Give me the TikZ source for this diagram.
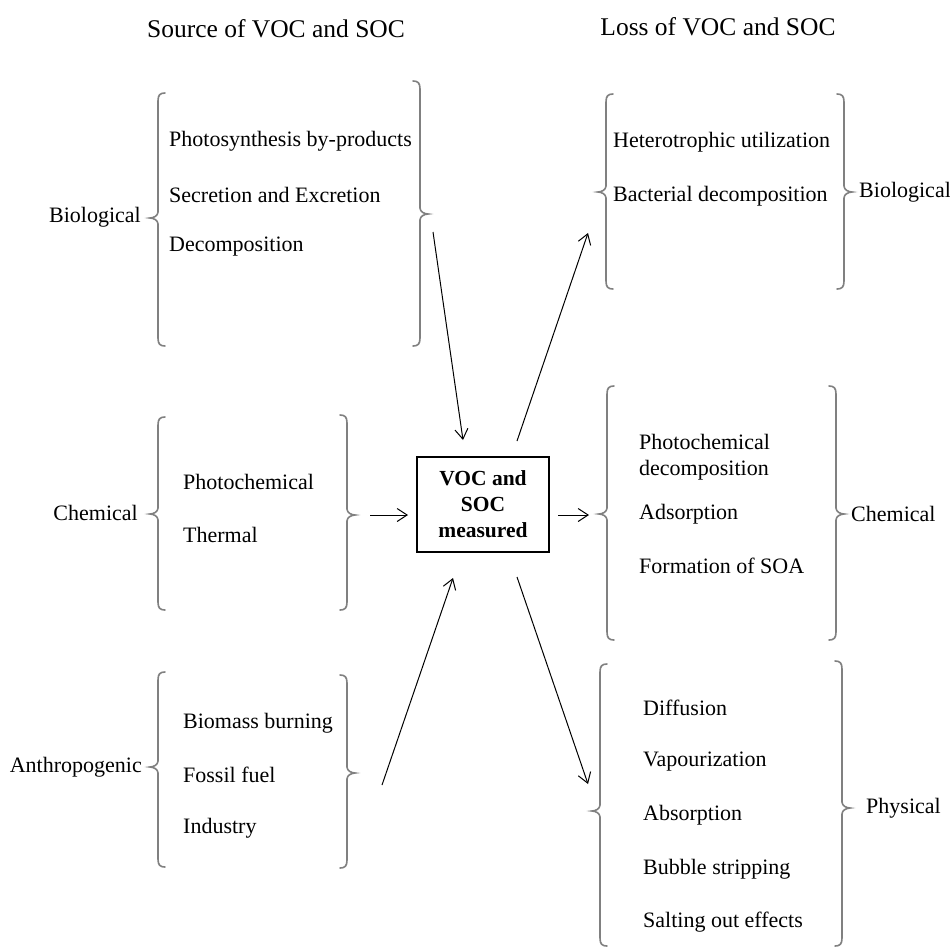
\documentclass[tikz,border=0pt]{standalone}
\usepackage{fontspec}
\setmainfont{Liberation Serif}
\usetikzlibrary{arrows.meta}
\newcommand{\LBr}[4]{% x, top, tip, bottom
  \draw[brc] (#1+7,#2) .. controls (#1+2,#2) and (#1,#2+2) .. (#1,#2+8)
    -- (#1,#3-6) .. controls (#1,#3-2) and (#1-5,#3) .. (#1-8,#3)
    .. controls (#1-5,#3) and (#1,#3+2) .. (#1,#3+6)
    -- (#1,#4-8) .. controls (#1,#4-2) and (#1+2,#4) .. (#1+7,#4);}
\newcommand{\RBr}[4]{% x, top, tip, bottom
  \draw[brc] (#1-7,#2) .. controls (#1-2,#2) and (#1,#2+2) .. (#1,#2+8)
    -- (#1,#3-6) .. controls (#1,#3-2) and (#1+5,#3) .. (#1+8,#3)
    .. controls (#1+5,#3) and (#1,#3+2) .. (#1,#3+6)
    -- (#1,#4-8) .. controls (#1,#4-2) and (#1-2,#4) .. (#1-7,#4);}
\begin{document}
\begin{tikzpicture}[x=1pt,y=-1pt,
  txt/.style={inner sep=0pt,font=\fontsize{22}{25.5}\selectfont},
  item/.style={txt,anchor=west},
  lbll/.style={txt,anchor=east},
  lblr/.style={txt,anchor=west},
  ttl/.style={inner sep=0pt,font=\fontsize{25.5}{29}\selectfont},
  brc/.style={draw=black!50,line width=1.6pt,line cap=round},
  arr/.style={draw=black,line width=1pt,-{Straight Barb[length=10pt,width=13pt]}},
  mbox/.style={draw=black,line width=1.2pt,minimum width=132pt,minimum height=95pt,
    align=center,inner sep=2pt,font=\fontsize{21.5}{26}\selectfont\bfseries}]
\useasboundingbox (0,0) rectangle (950,948);
% titles
\node[ttl] (tsrc) at (276,29) {Source of VOC and SOC};
\node[ttl] (tloss) at (718,27) {Loss of VOC and SOC};
% source: biological
\node[lbll] (sbio) at (141,217) {Biological};
\LBr{158}{93}{218}{346}
\node[item] (sb1) at (169,141) {Photosynthesis by-products};
\node[item] (sb2) at (169,195) {Secretion and Excretion};
\node[item] (sb3) at (169,247) {Decomposition};
\RBr{420}{81}{214}{346}
% source: chemical
\node[lbll] (schem) at (138,513) {Chemical};
\LBr{158}{417}{514}{610}
\node[item] (sc1) at (183,482) {Photochemical};
\node[item] (sc2) at (183,535) {Thermal};
\RBr{347}{415}{515}{610}
% source: anthropogenic
\node[lbll] (santh) at (142,767) {Anthropogenic};
\LBr{158}{672}{767}{867}
\node[item] (sa1) at (183,723) {Biomass burning};
\node[item] (sa2) at (183,775) {Fossil fuel};
\node[item] (sa3) at (183,828) {Industry};
\RBr{347}{675}{773}{868}
% centre
\node[mbox] (m) at (483,504.5) {VOC and\\SOC\\measured};
% loss: biological
\LBr{606}{94}{192}{289}
\node[item] (lb1) at (613,142) {Heterotrophic utilization};
\node[item] (lb2) at (613,196) {Bacterial decomposition};
\RBr{844}{94}{192}{289}
\node[lblr] (lbio) at (859,192) {Biological};
% loss: chemical
\LBr{607}{386}{514}{640}
\node[item,align=left] (lc1) at (639,457) {Photochemical\\decomposition};
\node[item] (lc2) at (639,514) {Adsorption};
\node[item] (lc3) at (639,566) {Formation of SOA};
\RBr{836}{386}{514}{640}
\node[lblr] (lchem) at (851,514) {Chemical};
% loss: physical
\LBr{600}{664}{811}{946}
\node[item] (lp1) at (643,708) {Diffusion};
\node[item] (lp2) at (643,762) {Vapourization};
\node[item] (lp3) at (643,815) {Absorption};
\node[item] (lp4) at (643,869) {Bubble stripping};
\node[item] (lp5) at (643,922) {Salting out effects};
\RBr{842}{661}{808}{946}
\node[lblr] (lphys) at (866,808) {Physical};
% connectors
\coordinate (a1s) at (433,232); \coordinate (a1e) at (463,440);
\coordinate (a2s) at (370,515); \coordinate (a2e) at (408,515);
\coordinate (a3s) at (382,785); \coordinate (a3e) at (453,578);
\coordinate (b1s) at (517,441); \coordinate (b1e) at (588,233);
\coordinate (b2s) at (558,515); \coordinate (b2e) at (589,515);
\coordinate (b3s) at (517,577); \coordinate (b3e) at (588,784);
\draw[arr] (a1s) -- (a1e);
\draw[arr] (a2s) -- (a2e);
\draw[arr] (a3s) -- (a3e);
\draw[arr] (b1s) -- (b1e);
\draw[arr] (b2s) -- (b2e);
\draw[arr] (b3s) -- (b3e);
\end{tikzpicture}
\end{document}
